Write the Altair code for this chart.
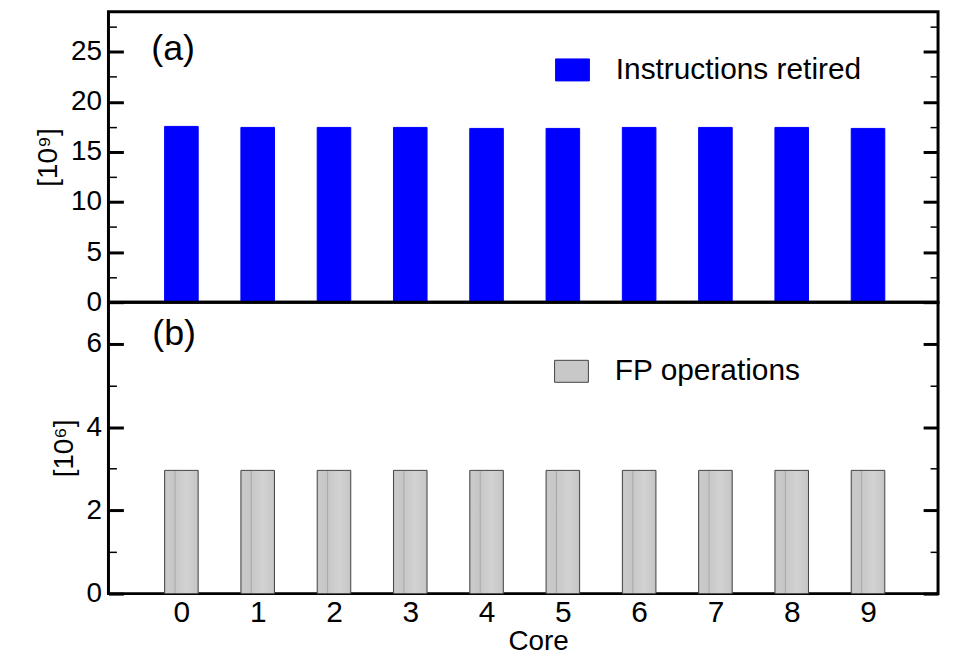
import altair as alt
import pandas as pd

cores = [0, 1, 2, 3, 4, 5, 6, 7, 8, 9]
instr_retired = [17.55, 17.45, 17.45, 17.45, 17.35, 17.35, 17.45, 17.45, 17.45, 17.35]
fp_ops = [2.96, 2.96, 2.96, 2.96, 2.96, 2.96, 2.96, 2.96, 2.96, 2.96]

top_major = [0, 5, 10, 15, 20, 25]
top_minor = [2.5, 7.5, 12.5, 17.5, 22.5, 27.5]
bot_major = [0, 2, 4, 6]
bot_minor = [1, 3, 5]

FONT = "Liberation Sans"
XDOM = [-0.956, 9.918]
W = 834

df_a = pd.DataFrame({"core": cores, "value": instr_retired, "series": "Instructions retired"})
df_b = pd.DataFrame({"core": cores, "value": fp_ops, "series": "FP operations"})

RECT = "M-1,-0.65L1,-0.65L1,0.65L-1,0.65Z"

# dotted-grey texture approximated by a striped gradient
DOTTED = alt.LinearGradient(
    gradient="linear", x1=0, x2=1, y1=0, y2=0,
    stops=[
        alt.GradientStop(offset=0.0, color="#bcbcbc"),
        alt.GradientStop(offset=0.06, color="#cacaca"),
        alt.GradientStop(offset=0.28, color="#c6c6c6"),
        alt.GradientStop(offset=0.31, color="#a8a8a8"),
        alt.GradientStop(offset=0.34, color="#c8c8c8"),
        alt.GradientStop(offset=0.65, color="#d2d2d2"),
        alt.GradientStop(offset=0.94, color="#c8c8c8"),
        alt.GradientStop(offset=1.0, color="#bcbcbc"),
    ],
)


def panel(df, ymax, major, minor, ytitle, fill, legend_fill, stroke, lx, ly, tag, tagx, tagy,
          height, show_x):
    yscale = alt.Scale(domain=[0, ymax], nice=False, zero=True)
    base = alt.Chart(df).transform_calculate(x0="datum.core - 0.22", x1="datum.core + 0.22")
    if show_x:
        xaxis = alt.Axis(values=cores, ticks=False, domain=False, grid=False, title="Core",
                         labelFontSize=30, titleFontSize=28, labelPadding=4, titlePadding=0,
                         titleX=432, labelFont=FONT, titleFont=FONT, labelColor="black",
                         titleColor="black", titleFontWeight="normal")
    else:
        xaxis = None
    bars = base.mark_bar(fill=fill, stroke=stroke, strokeWidth=1).encode(
        x=alt.X("x0:Q", scale=alt.Scale(domain=XDOM, nice=False, zero=False), axis=xaxis),
        x2="x1:Q",
        y=alt.Y("value:Q", scale=yscale,
                axis=alt.Axis(values=major, orient="left", offset=-15, tickSize=15, tickWidth=3,
                              tickColor="black", domain=False, grid=False, title=ytitle,
                              labelFontSize=28, titleFontSize=28, labelFont=FONT, titleFont=FONT,
                              labelColor="black", titleColor="black", titleFontWeight="normal",
                              labelPadding=7, titlePadding=8)),
        y2=alt.datum(0),
    )

    def ticks_layer(vals, orient, size, width, with_legend=False):
        enc = dict(
            y=alt.Y("value:Q", scale=yscale,
                    axis=alt.Axis(values=vals, orient=orient, offset=-size, tickSize=size,
                                  tickWidth=width, tickColor="black", labels=False,
                                  domain=False, grid=False, title=None))
        )
        if with_legend:
            enc["color"] = alt.Color(
                "series:N", scale=alt.Scale(range=[legend_fill]),
                legend=alt.Legend(orient="none", legendX=lx, legendY=ly, title=None,
                                  symbolType=RECT, symbolSize=1156, symbolStrokeColor=stroke,
                                  symbolStrokeWidth=1, symbolFillColor=legend_fill,
                                  symbolOpacity=1, labelFontSize=30, labelFont=FONT,
                                  labelColor="black", labelOffset=26, labelLimit=600, padding=0))
        return alt.Chart(df).mark_point(opacity=0, filled=True).encode(**enc)

    label = alt.Chart(pd.DataFrame({"t": [tag]})).mark_text(
        font=FONT, fontSize=36, align="left", baseline="alphabetic", color="black"
    ).encode(x=alt.value(tagx), y=alt.value(tagy), text="t:N")

    return alt.layer(
        bars,
        ticks_layer(minor, "left", 8, 1.5, with_legend=True),
        ticks_layer(major, "right", 15, 3),
        ticks_layer(minor, "right", 8, 1.5),
        label,
    ).resolve_scale(y="independent", color="independent").properties(width=W, height=height)


top = panel(df_a, 29, top_major, top_minor, "[10⁹]", "#0000ff", "#0000ff", "#0000ff", 449, 41,
            "(a)", 43, 49, 292, False)
bot = panel(df_b, 7, bot_major, bot_minor, "[10⁶]", DOTTED, "#c8c8c8", "#444444", 448, 52,
            "(b)", 44, 43, 293, True)

chart = alt.vconcat(top, bot, spacing=0, bounds="flush").resolve_scale(
    color="independent", y="independent"
).properties(
    padding={"left": 25, "top": 0, "right": 5, "bottom": 5}
).configure_view(stroke="black", strokeWidth=3)

chart.save("out.html", embed_options={"renderer": "svg", "actions": False})
